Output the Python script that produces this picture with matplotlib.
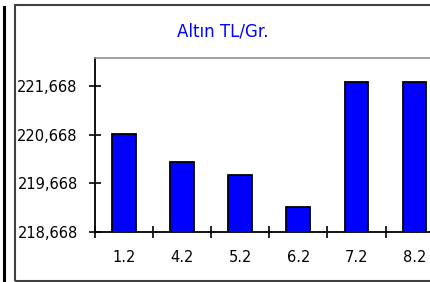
#!/usr/bin/env python3
"""Altın TL/Gr. bar chart, recreated with matplotlib."""
import matplotlib
matplotlib.use("Agg")
import matplotlib.pyplot as plt
from matplotlib.lines import Line2D
from matplotlib.patches import Rectangle
import numpy as np

# data
categories = ["1.2", "4.2", "5.2", "6.2", "7.2", "8.2"]
values = [220.68, 220.11, 219.83, 219.18, 221.76, 221.76]
y_ticks = [218.668, 219.668, 220.668, 221.668]
title = "Altın TL/Gr."

W, H = 430, 282
fig = plt.figure(figsize=(W / 100, H / 100), dpi=100)
fig.patch.set_facecolor("white")

# plot area in pixels: left 95, top 58, bottom 232, ~58.1 px per category (clipped on the right)
left, top, bottom, step = 95, 58, 232, 58.1
ax = fig.add_axes([left / W, 1 - bottom / H, 6 * step / W, (bottom - top) / H])

x = np.arange(len(categories))
ax.bar(x, values, width=0.41, color="#0000ff", edgecolor="black", linewidth=1.3,
       bottom=0, zorder=3)
ax.set_xlim(-0.5, len(categories) - 0.5)
ax.set_ylim(y_ticks[0], y_ticks[0] + (bottom - top) / 48.67)

ax.set_yticks(y_ticks)
ax.set_yticklabels([f"{v:.3f}".replace(".", ",") for v in y_ticks], fontsize=10.5)
ax.tick_params(axis="y", direction="inout", length=9, width=1.2, pad=8, colors="black")

# ticks between categories, labels at centres
ax.set_xticks(np.arange(-0.5, len(categories)), labels=[""] * (len(categories) + 1))
ax.tick_params(axis="x", which="major", direction="inout", length=9, width=1.2)
ax.set_xticks(x, labels=categories, minor=True)
ax.tick_params(axis="x", which="minor", length=0, pad=13, labelsize=10.5)

for s in ("left", "bottom"):
    ax.spines[s].set_color("black")
    ax.spines[s].set_linewidth(1.3)
for s in ("top", "right"):
    ax.spines[s].set_color("#909090")
    ax.spines[s].set_linewidth(1.2)

fig.text(223 / W, 1 - 32 / H, title, color="#0000ff", fontsize=12,
         ha="center", va="center")

# outer chart frame (right side is cut off by the image edge)
fig.add_artist(Rectangle((14.5 / W, 1 - 281 / H), 1, (281 - 5) / H,
                         transform=fig.transFigure, fill=False,
                         edgecolor="#404040", linewidth=1.5))
# thick black line at the very left edge
fig.add_artist(Line2D([4 / W, 4 / W], [0, 1 - 7 / H], transform=fig.transFigure,
                      color="black", linewidth=2.2))

fig.savefig("out.png", dpi=100)
plt.close(fig)
